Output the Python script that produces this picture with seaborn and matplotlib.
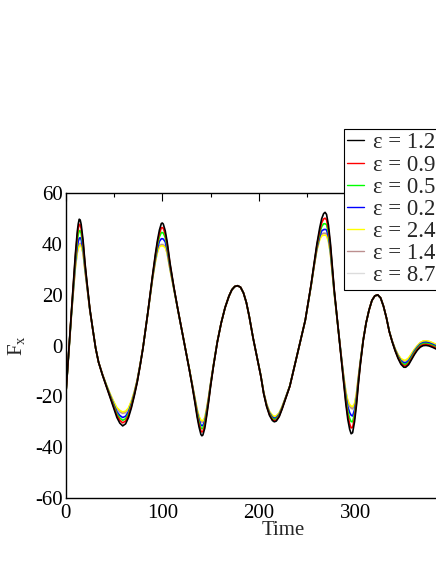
import matplotlib
matplotlib.use("Agg")
import matplotlib.pyplot as plt
from matplotlib.lines import Line2D
import seaborn as sns
import pandas as pd

time = [0, 3, 6, 8, 10, 12, 13, 14, 15, 16,
        18, 20, 22, 25, 28, 31, 34, 38, 42, 46,
        50, 53, 56, 59, 62, 65, 68, 71, 74, 77,
        80, 85, 90, 93, 95, 97, 99, 100, 101, 103,
        105, 108, 112, 116, 120, 124, 128, 131, 134, 136,
        138, 140, 141, 142, 144, 146, 148, 150, 153, 157,
        161, 165, 169, 172, 175, 178, 181, 184, 187, 190,
        194, 198, 202, 205, 208, 211, 214, 216, 218, 221,
        224, 228, 232, 236, 240, 244, 248, 251, 254, 257,
        260, 263, 265, 267, 268.5, 270, 272, 274, 276, 278,
        280, 282, 284, 286, 288, 290, 292, 294, 295.5, 297,
        299, 301, 303, 305, 308, 311, 314, 317, 320, 323,
        326, 329, 332, 335, 338, 341, 344, 347, 350, 352,
        355, 358, 361, 364, 367, 370, 373, 376, 380, 385,
        390, 395, 400]

fx_black = [-20, -3, 14, 25, 36, 45, 48, 49.8, 49.5, 47.8,
            41.5, 32.5, 25, 14.5, 6.5, -1, -6.5, -11.5, -16, -20.5,
            -25, -28.3, -30.5, -31.6, -30.8, -28.3, -24.5, -19.8, -14.5, -8,
            -1, 13, 28, 36.5, 41.5, 45.5, 48.1, 48.3, 47.9, 45.3,
            41, 32.5, 23, 14.5, 6.5, -1.5, -9.5, -16, -23, -28,
            -32, -35, -35.5, -35.2, -32.5, -27.5, -22, -16, -8, 1.5,
            9, 15, 19.5, 22, 23.3, 23.6, 23, 20.8, 17, 11.5,
            3, -4.5, -12, -19, -24, -27.5, -29.5, -30, -29.7, -28,
            -25, -20.5, -16, -9.5, -3, 3.5, 10, 17, 24, 32,
            40, 46.5, 50, 52, 52.5, 51.7, 47.5, 40.5, 31, 22,
            14.5, 7, -0.5, -8, -15.5, -23, -29, -33, -34.7, -34.3,
            -30, -23.5, -15, -7.5, 2, 9, 14, 17.8, 19.6, 20,
            18.8, 15.5, 11, 5.5, 1.5, -2, -5, -7.3, -8.5, -8.5,
            -7.5, -5.5, -3.5, -1.8, -0.6, 0, 0.1, -0.1, -0.7, -1.6,
            -2.8, -4, -5]

fx_red = [-20, -3.1, 13.7, 24.4, 35, 43.4, 46.1, 47.8, 47.6, 46.2,
          40.5, 31.9, 24.7, 14.4, 6.5, -1, -6.5, -11.4, -15.9, -20.2,
          -24.4, -27.5, -29.4, -30.4, -29.7, -27.5, -23.9, -19.4, -14.3, -7.9,
          -0.9, 12.9, 27.7, 35.9, 40.6, 44.2, 46.4, 46.5, 46.2, 44,
          40.1, 32, 22.9, 14.5, 6.5, -1.5, -9.4, -15.8, -22.5, -27.3,
          -31, -33.6, -34, -33.8, -31.5, -26.8, -21.5, -15.7, -7.9, 1.5,
          9, 15, 19.5, 22, 23.3, 23.6, 23, 20.8, 17, 11.5,
          3, -4.5, -12, -18.9, -23.8, -27.2, -29.1, -29.6, -29.3, -27.7,
          -24.8, -20.4, -16, -9.5, -3, 3.5, 10, 16.9, 23.9, 31.7,
          39.4, 45.3, 48.4, 49.9, 50.2, 49.6, 45.9, 39.5, 30.4, 21.7,
          14.3, 6.9, -0.4, -7.7, -14.9, -22, -27.4, -30.9, -32.4, -32.2,
          -28.5, -22.5, -14.4, -7.2, 2.1, 9, 14, 17.8, 19.6, 20,
          18.8, 15.5, 11, 5.5, 1.6, -1.9, -4.7, -6.9, -8, -8,
          -7, -5.1, -3.05, -1.4, -0.2, 0.4, 0.5, 0.3, -0.3, -1.2,
          -2.4, -3.6, -4.6]

fx_green = [-20, -3.2, 13.3, 23.6, 33.8, 41.4, 43.8, 45.3, 45.3, 44.2,
            39.3, 31.2, 24.3, 14.3, 6.5, -1, -6.5, -11.4, -15.7, -19.9,
            -23.9, -26.8, -28.5, -29.4, -28.8, -26.8, -23.4, -19.1, -14.1, -7.8,
            -0.9, 12.9, 27.4, 35.2, 39.6, 42.8, 44.6, 44.5, 44.4, 42.6,
            39.1, 31.5, 22.7, 14.4, 6.5, -1.4, -9.3, -15.6, -22.1, -26.6,
            -30, -32.4, -32.7, -32.6, -30.5, -26.1, -21.1, -15.4, -7.8, 1.6,
            9, 15, 19.5, 22, 23.3, 23.6, 23, 20.8, 17, 11.5,
            3, -4.5, -11.9, -18.8, -23.6, -26.9, -28.6, -29.1, -28.8, -27.4,
            -24.6, -20.3, -15.9, -9.5, -3, 3.5, 10, 16.9, 23.7, 31.5,
            38.9, 44.3, 46.9, 48, 48, 47.7, 44.4, 38.5, 29.7, 21.3,
            14.2, 6.9, -0.3, -7.4, -14.3, -20.8, -25.7, -28.7, -29.9, -30,
            -26.9, -21.5, -13.8, -6.9, 2.2, 9, 14, 17.8, 19.6, 20,
            18.8, 15.5, 11, 5.6, 1.6, -1.7, -4.4, -6.4, -7.4, -7.4,
            -6.5, -4.6, -2.6, -1, 0.2, 0.8, 0.9, 0.7, 0.1, -0.8,
            -2, -3.2, -4.2]

fx_blue = [-20, -3.4, 12.9, 22.8, 32.3, 39, 41, 42.3, 42.5, 41.8,
           37.8, 30.3, 23.9, 14.1, 6.5, -1, -6.5, -11.3, -15.6, -19.6,
           -23.4, -26, -27.5, -28.3, -27.8, -26, -22.9, -18.8, -13.9, -7.7,
           -0.8, 12.8, 27.1, 34.4, 38.3, 41.1, 42.1, 42.1, 42, 40.9,
           37.8, 30.8, 22.5, 14.4, 6.5, -1.4, -9.3, -15.4, -21.7, -26,
           -29.2, -31.3, -31.5, -31.5, -29.7, -25.5, -20.7, -15.2, -7.7, 1.6,
           9, 15, 19.5, 22, 23.3, 23.6, 23, 20.8, 17, 11.5,
           3, -4.5, -11.9, -18.7, -23.4, -26.5, -28.2, -28.6, -28.4, -27,
           -24.4, -20.2, -15.9, -9.5, -3, 3.5, 10, 16.8, 23.6, 31.2,
           38.3, 43.1, 45.2, 45.7, 45.8, 45.6, 42.9, 37.4, 29.1, 21,
           14, 6.8, -0.1, -7.1, -13.7, -19.7, -24, -26.4, -27.4, -27.7,
           -25.3, -20.4, -13.2, -6.6, 2.3, 9, 14, 17.8, 19.6, 20,
           18.8, 15.5, 11, 5.6, 1.7, -1.5, -4.1, -5.9, -6.8, -6.8,
           -5.9, -4.1, -2.1, -0.6, 0.6, 1.2, 1.3, 1.1, 0.5, -0.4,
           -1.6, -2.8, -3.8]

fx_yellow = [-20, -3.5, 12.4, 21.9, 30.8, 36.6, 38.2, 39.3, 39.7, 39.4,
             36.3, 29.4, 23.4, 14, 6.5, -1, -6.5, -11.2, -15.3, -19,
             -22.3, -24.4, -25.5, -26.1, -25.8, -24.5, -21.8, -18.2, -13.6, -7.5,
             -0.7, 12.7, 26.6, 33.4, 36.8, 38.9, 39.3, 39.3, 39.2, 38.7,
             36.4, 30, 22.3, 14.3, 6.5, -1.4, -9.1, -15.1, -21, -25,
             -27.8, -29.4, -29.5, -29.6, -28.3, -24.5, -20, -14.8, -7.5, 1.7,
             9, 15, 19.5, 22, 23.3, 23.6, 23, 20.8, 17, 11.5,
             3, -4.5, -11.8, -18.5, -23, -26, -27.4, -27.8, -27.6, -26.5,
             -24, -20.1, -15.8, -9.5, -3, 3.5, 10, 16.7, 23.4, 30.9,
             37.6, 41.8, 43.2, 43.5, 43.5, 43.3, 41, 36.2, 28.3, 20.6,
             13.8, 6.7, 0.1, -6.7, -12.7, -18, -21.5, -23.2, -23.8, -24,
             -22.8, -18.8, -12.2, -6.2, 2.4, 9, 14, 17.8, 19.6, 20,
             18.8, 15.5, 11, 5.6, 1.8, -1.2, -3.5, -5.1, -5.7, -5.7,
             -4.8, -3.1, -1.4, 0, 1.2, 1.8, 1.9, 1.7, 1.1, 0.2,
             -1, -2.2, -3.2]

fx_brown = [-20, -3.5, 12.5, 22, 31, 37, 38.7, 39.8, 40.2, 39.8,
            36.5, 29.5, 23.5, 14, 6.5, -1, -6.5, -11.3, -15.4, -19.2,
            -22.5, -24.8, -26, -26.6, -26.3, -24.8, -22, -18.3, -13.7, -7.5,
            -0.8, 12.7, 26.7, 33.6, 37.1, 39.3, 39.7, 39.7, 39.6, 39.1,
            36.6, 30.1, 22.3, 14.3, 6.5, -1.4, -9.2, -15.2, -21.2, -25.3,
            -28.2, -29.9, -30, -30.1, -28.7, -24.8, -20.2, -14.9, -7.6, 1.7,
            9, 15, 19.5, 22, 23.3, 23.6, 23, 20.8, 17, 11.5,
            3, -4.5, -11.8, -18.5, -23.1, -26.1, -27.6, -28, -27.8, -26.6,
            -24.1, -20.1, -15.9, -9.5, -3, 3.5, 10, 16.7, 23.5, 31,
            37.8, 42.2, 43.9, 44.2, 44.2, 43.9, 41.6, 36.6, 28.6, 20.7,
            13.9, 6.7, 0, -6.8, -12.9, -18.4, -22, -23.9, -24.5, -24.8,
            -23.3, -19.2, -12.4, -6.3, 2.4, 9, 14, 17.8, 19.6, 20,
            18.8, 15.5, 11, 5.6, 1.8, -1.3, -3.6, -5.3, -6, -6,
            -5.1, -3.4, -1.6, -0.1, 1.1, 1.7, 1.8, 1.6, 1, 0.1,
            -1.1, -2.3, -3.3]

fx_grey = [-20, -3.5, 12.5, 22.1, 31.2, 37.2, 39, 40.1, 40.5, 40,
           36.7, 29.6, 23.5, 14, 6.5, -1, -6.5, -11.3, -15.4, -19.2,
           -22.6, -24.9, -26.2, -26.8, -26.5, -24.9, -22.1, -18.4, -13.7, -7.5,
           -0.8, 12.7, 26.7, 33.7, 37.3, 39.5, 40, 40, 39.9, 39.4,
           36.8, 30.2, 22.3, 14.3, 6.5, -1.4, -9.2, -15.2, -21.3, -25.4,
           -28.3, -30.1, -30.2, -30.3, -28.8, -24.9, -20.3, -14.9, -7.6, 1.7,
           9, 15, 19.5, 22, 23.3, 23.6, 23, 20.8, 17, 11.5,
           3, -4.5, -11.8, -18.5, -23.1, -26.2, -27.7, -28.1, -27.9, -26.7,
           -24.1, -20.1, -15.9, -9.5, -3, 3.5, 10, 16.7, 23.5, 31,
           37.9, 42.3, 44.1, 44.5, 44.4, 44.2, 41.8, 36.7, 28.6, 20.7,
           13.9, 6.7, 0, -6.8, -13, -18.5, -22.2, -24.2, -24.8, -25.1,
           -23.5, -19.3, -12.5, -6.3, 2.4, 9, 14, 17.8, 19.6, 20,
           18.8, 15.5, 11, 5.6, 1.8, -1.3, -3.7, -5.4, -6.1, -6.1,
           -5.2, -3.5, -1.7, -0.2, 1, 1.6, 1.7, 1.5, 0.9, 0,
           -1.2, -2.4, -3.4]

labels = ["ε = 1.25", "ε = 0.90", "ε = 0.51", "ε = 0.22",
          "ε = 2.42e-2", "ε = 1.42e-2", "ε = 8.70e-3"]
colors = ["#000000", "#ff0000", "#00ff00", "#0000ff", "#ffff00", "#bc8f8f", "#dcdcdc"]
series = [fx_black, fx_red, fx_green, fx_blue, fx_yellow, fx_brown, fx_grey]

rows = []
for lab, vals in zip(labels, series):
    for t, v in zip(time, vals):
        rows.append({"Time": t, "Fx": v, "eps": lab})
df = pd.DataFrame(rows)

sns.set_style("white")
plt.rcParams["font.family"] = ["Liberation Serif", "DejaVu Serif"]
plt.rcParams["mathtext.fontset"] = "custom"
plt.rcParams["mathtext.rm"] = "Liberation Serif"
plt.rcParams["mathtext.it"] = "Liberation Serif:italic"
plt.rcParams["axes.unicode_minus"] = False

fig = plt.figure(figsize=(4.36, 5.64), dpi=100)
ax = fig.add_axes([65.7 / 436, 66 / 564, 434.7 / 436, 304.7 / 564])

palette = dict(zip(labels, colors))
sns.lineplot(data=df, x="Time", y="Fx", hue="eps", hue_order=labels[::-1],
             palette=palette, estimator=None, sort=False, linewidth=1.2,
             legend=False, ax=ax)

ax.set_xlim(0, 450)
ax.set_ylim(-60, 60)
ax.set_xticks([0, 100, 200, 300])
ax.set_xticks([50, 150, 250, 350], minor=True)
ax.set_yticks([-60, -40, -20, 0, 20, 40, 60])
ax.set_yticks([-50, -30, -10, 10, 30, 50], minor=True)
ax.tick_params(which="both", direction="in", top=True, right=True, width=0.8,
               colors="black", labelsize=15)
ax.tick_params(which="major", length=5.8)
ax.tick_params(which="minor", length=2.9)
ax.tick_params(axis="y", pad=2)
ax.tick_params(axis="x", pad=4)
for s in ax.spines.values():
    s.set_color("black")
    s.set_linewidth(1.0)

ax.set_xlabel("Time", fontsize=15, labelpad=-1)
ax.set_ylabel(r"$\mathrm{F_x}$", fontsize=15, labelpad=6)

handles = [Line2D([0], [0], color=c, lw=1.0) for c in colors]
leg = fig.legend(handles, labels, loc="upper left",
                 bbox_to_anchor=(344 / 436, 1 - 129 / 564), bbox_transform=fig.transFigure,
                 borderaxespad=0, fontsize=16.4, handlelength=0.74, handletextpad=0.4,
                 borderpad=0.15, labelspacing=0.05, fancybox=False, framealpha=1)
leg.get_frame().set_edgecolor("black")
leg.get_frame().set_linewidth(0.8)

fig.savefig("out.png", dpi=100)
